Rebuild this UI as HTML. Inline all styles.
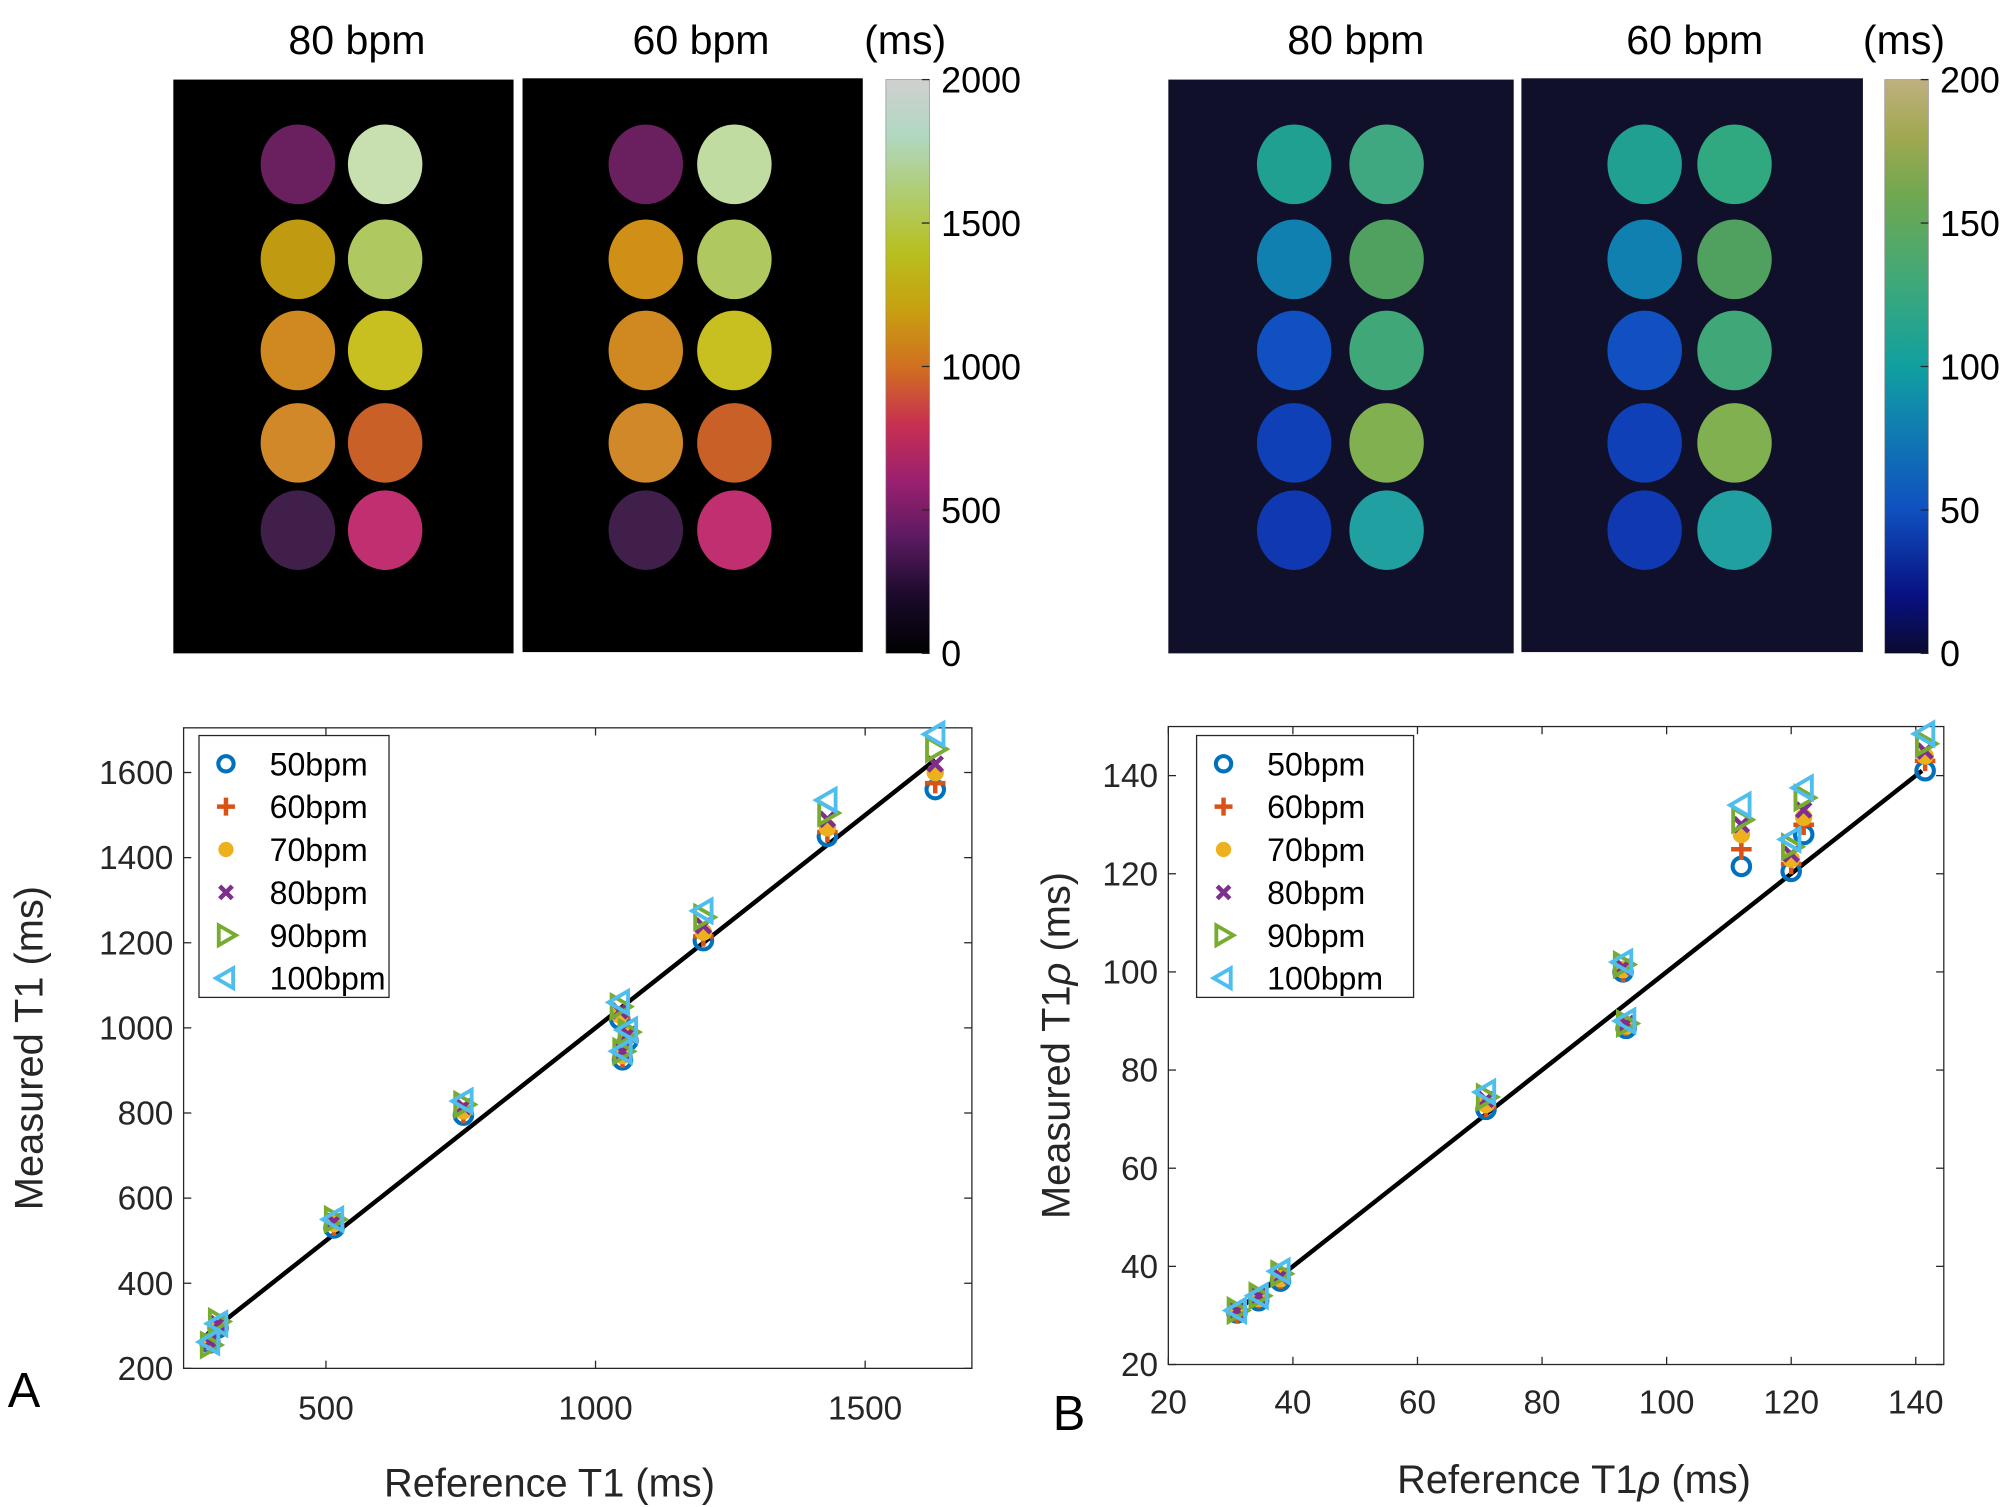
<!DOCTYPE html>
<html><head><meta charset="utf-8"><style>
html,body{margin:0;padding:0;background:#fff;}
svg{display:block;font-family:"Liberation Sans",sans-serif;}
</style></head><body>
<svg id="fig" width="2008" height="1507" viewBox="0 0 1564 1174" preserveAspectRatio="none" xmlns="http://www.w3.org/2000/svg">
<defs>
<linearGradient id="cbA" x1="0" y1="1" x2="0" y2="0">
<stop offset="0" stop-color="#000000"/><stop offset="0.1" stop-color="#1a0a2a"/><stop offset="0.2" stop-color="#5a1a60"/><stop offset="0.3" stop-color="#9a2070"/><stop offset="0.4" stop-color="#c83050"/><stop offset="0.5" stop-color="#d07020"/><stop offset="0.6" stop-color="#c8a010"/><stop offset="0.7" stop-color="#b8c020"/><stop offset="0.8" stop-color="#b0cc70"/><stop offset="0.9" stop-color="#b0d8c0"/><stop offset="1" stop-color="#d0d0d0"/>
</linearGradient>
<linearGradient id="cbB" x1="0" y1="1" x2="0" y2="0">
<stop offset="0" stop-color="#0a0a30"/><stop offset="0.1" stop-color="#081080"/><stop offset="0.25" stop-color="#1050c0"/><stop offset="0.4" stop-color="#1080b0"/><stop offset="0.5" stop-color="#10a0a0"/><stop offset="0.65" stop-color="#40a878"/><stop offset="0.8" stop-color="#70a850"/><stop offset="0.9" stop-color="#a0a850"/><stop offset="1" stop-color="#c0b080"/>
</linearGradient>
</defs>
<g id="maps"></g>
<g id="plotA"></g>
<g id="plotB"></g>
</svg>
<script>
const NS="http://www.w3.org/2000/svg";
const seriesNames=["50bpm","60bpm","70bpm","80bpm","90bpm","100bpm"];
const seriesColors=["#0072BD","#D95319","#EDB120","#7E2F8E","#77AC30","#4DBEEE"];
const seriesMarkers=["circle","plus","dot","x","tri-right","tri-left"];
const refT1=[285,300,515,755,1045,1050,1060,1200,1430,1630];
const t1_50=[260,295,530,795,1020,925,970,1205,1450,1560];
const t1_60=[260,298,535,800,1025,930,975,1215,1460,1575];
const t1_70=[262,300,540,805,1030,935,980,1225,1470,1600];
const t1_80=[262,305,545,815,1040,945,985,1240,1490,1620];
const t1_90=[255,310,550,820,1050,945,990,1260,1505,1655];
const t1_100=[262,305,550,828,1060,945,995,1275,1535,1690];
const fitA=[280,1630];
const ticksAx=[500,1000,1500];
const ticksAy=[200,400,600,800,1000,1200,1400,1600];
const refR=[31,34.5,38,71,93,93.5,112,120,122,141.5];
const r_50=[30.5,33,37,72,100,88.5,121.5,120.5,128,141];
const r_60=[30.5,33.5,37.5,72.5,100,89,125,122,130,143];
const r_70=[31,33.5,37.5,73,100.5,89,128,123,131.5,144];
const r_80=[31,34,38,74,101,89.5,130,124,133,145];
const r_90=[31,34,38.5,74.5,101.5,89.5,131,125.5,135.5,146.5];
const r_100=[31,34,39,75.5,102,90,134,127,137.5,148.5];
const fitB=[31,141];
const ticksBx=[20,40,60,80,100,120,140];
const ticksBy=[20,40,60,80,100,120,140];

function el(tag,attrs,parent,text){const e=document.createElementNS(NS,tag);for(const k in attrs)e.setAttribute(k,attrs[k]);if(text!==undefined)e.textContent=text;parent.appendChild(e);return e;}

function marker(g,type,x,y,c,s){
  if(type==="circle")return el("circle",{cx:x,cy:y,r:s*0.85,fill:"none",stroke:c,"stroke-width":3.2},g);
  if(type==="dot")return el("circle",{cx:x,cy:y,r:s*0.85,fill:c},g);
  if(type==="plus")return el("path",{d:`M${x-s} ${y}H${x+s}M${x} ${y-s}V${y+s}`,stroke:c,"stroke-width":3.5},g);
  if(type==="x")return el("path",{d:`M${x-s*0.7} ${y-s*0.7}L${x+s*0.7} ${y+s*0.7}M${x-s*0.7} ${y+s*0.7}L${x+s*0.7} ${y-s*0.7}`,stroke:c,"stroke-width":3.5},g);
  if(type==="tri-right")return el("path",{d:`M${x-s*0.8} ${y-s*1.1}L${x+s*1.1} ${y}L${x-s*0.8} ${y+s*1.1}Z`,fill:"none",stroke:c,"stroke-width":3},g);
  return el("path",{d:`M${x+s*0.8} ${y-s*1.1}L${x-s*1.1} ${y}L${x+s*0.8} ${y+s*1.1}Z`,fill:"none",stroke:c,"stroke-width":3},g);
}

function drawPlot(g,cfg){
  const {L,R,T,B,xd,yd,ref,series,fit,tx,ty,xlabel,xlx,ylabel,yoff,xoff,letter,legX,legY,legW}=cfg;
  const sx=v=>L+(v-xd[0])/(xd[1]-xd[0])*(R-L);
  const sy=v=>B-(v-yd[0])/(yd[1]-yd[0])*(B-T);
  const box=el("rect",{x:L,y:T,width:R-L,height:B-T,fill:"#fff",stroke:"#262626","stroke-width":1},g);
  
  
  tx.forEach(v=>{const X=sx(v);
    el("line",{x1:X,y1:B,x2:X,y2:B-6,stroke:"#262626"},g);el("line",{x1:X,y1:T,x2:X,y2:T+6,stroke:"#262626"},g);
    const t=el("text",{x:X,y:B+xoff,"text-anchor":"middle","font-size":26,fill:"#262626"},g,String(v));
    
    });
  ty.forEach(v=>{const Y=sy(v);
    el("line",{x1:L,y1:Y,x2:L+6,y2:Y,stroke:"#262626"},g);el("line",{x1:R,y1:Y,x2:R-6,y2:Y,stroke:"#262626"},g);
    const t=el("text",{x:L-8,y:Y+9,"text-anchor":"end","font-size":26,fill:"#262626"},g,String(v));
    
    });
  const xl=el("text",{x:xlx,y:B+100,"text-anchor":"middle","font-size":31,fill:"#262626"},g);xl.innerHTML=xlabel;
  
  
  const yl=el("text",{x:0,y:0,"text-anchor":"middle","font-size":31,fill:"#262626",transform:`translate(${L-yoff},${(T+B)/2}) rotate(-90)`},g);yl.innerHTML=ylabel;
  
  
  const lt=el("text",{x:letter[0],y:letter[1],"font-size":38,fill:"#000"},g,letter[2]);
  
  
  const fl=el("line",{x1:sx(fit[0]),y1:sy(fit[0]),x2:sx(fit[1]),y2:sy(fit[1]),stroke:"#000","stroke-width":3.5},g);
  
  
  series.forEach((vals,si)=>{
    const sg=el("g",{},g);
    
    
    vals.forEach((v,i)=>{const m=marker(sg,seriesMarkers[si],sx(ref[i]),sy(v),seriesColors[si],8);
      
      });
  });
  const lg=el("g",{},g);
  
  
  el("rect",{x:legX,y:legY,width:legW,height:204,fill:"#fff",stroke:"#262626","stroke-width":1},lg);
  seriesNames.forEach((n,i)=>{const y=legY+22+i*33.4;
    const e=el("g",{},lg);
    
    
    marker(e,seriesMarkers[i],legX+21,y,seriesColors[i],7);
    el("text",{x:legX+55,y:y+9,"font-size":25,fill:"#000"},e,n);});
}

drawPlot(document.getElementById("plotA"),{L:143,R:757,T:567,B:1066,xd:[236,1698],yd:[200,1705],ref:refT1,
  series:[t1_50,t1_60,t1_70,t1_80,t1_90,t1_100],fit:fitA,tx:ticksAx,ty:ticksAy,xoff:40,yoff:110,xlx:428,
  xlabel:"Reference T1 (ms)",ylabel:"Measured T1 (ms)",letter:[6,1096,"A"],legX:155,legY:573,legW:148});
drawPlot(document.getElementById("plotB"),{L:910,R:1514,T:566,B:1063,xd:[20,144.5],yd:[20,150],ref:refR,
  series:[r_50,r_60,r_70,r_80,r_90,r_100],fit:fitB,tx:ticksBx,ty:ticksBy,xoff:38,yoff:77,xlx:1226,
  xlabel:"Reference T1<tspan font-style='italic'>ρ</tspan> (ms)",ylabel:"Measured T1<tspan font-style='italic'>ρ</tspan> (ms)",letter:[820,1114,"B"],legX:932,legY:573,legW:169});

// maps
const maps=document.getElementById("maps");
const mapRowsY=[128,202,273,345,413];
const colA1=[["#6a1f5e","#c8e0b0"],["#c09a10","#b0c860"],["#d08820","#c8c020"],["#d08828","#c86028"],["#40204a","#c03070"]];
const colA2=[["#6a1f5e","#c0dca0"],["#d09018","#b0c860"],["#d08820","#c8c020"],["#d08828","#c86028"],["#40204a","#c03070"]];
const colB1=[["#20a090","#40a880"],["#1080b0","#50a060"],["#1050c0","#40a878"],["#1040b8","#80b050"],["#1038b0","#20a0a0"]];
const colB2=[["#20a090","#30a880"],["#1080b0","#50a060"],["#1050c0","#40a878"],["#1040b8","#80b050"],["#1038b0","#20a0a0"]];
const panels=[
 {x:135,w:265,y:62,h:447,bg:"#000",cols:[232,300],c:colA1,title:"80 bpm",tx:278},
 {x:407,w:265,y:61,h:447,bg:"#000",cols:[503,572],c:colA2,title:"60 bpm",tx:546},
 {x:910,w:269,y:62,h:447,bg:"#10102a",cols:[1008,1080],c:colB1,title:"80 bpm",tx:1056},
 {x:1185,w:266,y:61,h:447,bg:"#10102a",cols:[1281,1351],c:colB2,title:"60 bpm",tx:1320}];
panels.forEach(p=>{
  const g=el("g",{},maps);
  
  
  el("rect",{x:p.x,y:p.y,width:p.w,height:p.h,fill:p.bg},g);
  mapRowsY.forEach((y,r)=>p.cols.forEach((x,c)=>el("ellipse",{cx:x,cy:y,rx:29,ry:31,fill:p.c[r][c]},g)));
  const t=el("text",{x:p.tx,y:42,"text-anchor":"middle","font-size":32,fill:"#000"},g,p.title);
  
  
});
const cbs=[{x:690,grad:"cbA",labels:["2000","1500","1000","500","0"],ux:705},{x:1468,grad:"cbB",labels:["200","150","100","50","0"],ux:1483}];
cbs.forEach(cb=>{
  const g=el("g",{},maps);
  
  
  el("rect",{x:cb.x,y:62,width:34,height:447,fill:`url(#${cb.grad})`,stroke:"#888","stroke-width":0.5},g);
  cb.labels.forEach((l,i)=>{const y=62+i*447/4;
    el("line",{x1:cb.x+34,y1:y,x2:cb.x+28,y2:y,stroke:"#262626"},g);
    el("text",{x:cb.x+43,y:y+10,"font-size":28,fill:"#000"},g,l);});
  const u=el("text",{x:cb.ux,y:42,"text-anchor":"middle","font-size":32,fill:"#000"},g,"(ms)");
  
  
});
</script>
</body></html>
